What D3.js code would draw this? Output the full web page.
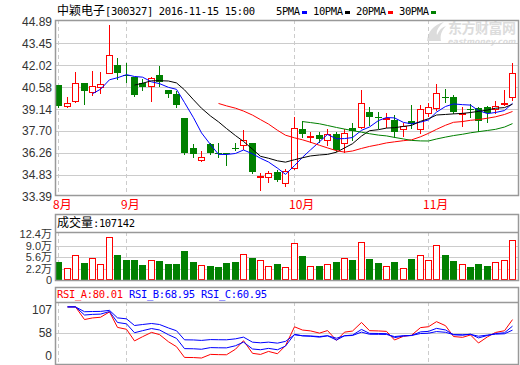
<!DOCTYPE html>
<html><head><meta charset="utf-8">
<script src="https://cdn.jsdelivr.net/npm/d3@7"></script>
<style>body{margin:0;background:#fff}svg{display:block}</style>
</head><body><svg id="c" width="520" height="365"></svg>
<script>
// ---------- data ----------
const dates = ["08-22","08-23","08-24","08-25","08-26","08-29","08-30","08-31",
"09-01","09-02","09-05","09-06","09-07","09-08","09-09","09-12","09-13","09-14","09-19","09-20","09-21","09-22","09-23","09-26","09-27","09-28","09-29","09-30",
"10-10","10-11","10-12","10-13","10-14","10-17","10-18","10-19","10-20","10-21","10-24","10-25","10-26","10-27","10-28","10-31",
"11-01","11-02","11-03","11-04","11-07","11-08","11-09","11-10","11-11","11-14","11-15"];
const openP  = [40.71,39.35,39.68,40.86,40.27,40.60,41.52,42.03,41.40,41.26,40.82,40.65,41.37,40.38,40.12,38.52,36.59,35.78,36.83,36.24,36.26,36.56,36.77,36.88,34.70,34.69,35.02,34.29,35.24,37.80,37.35,37.42,37.10,37.49,36.88,37.87,37.93,38.96,38.62,38.50,38.41,37.80,38.34,37.80,38.85,39.18,39.92,39.90,38.86,39.15,39.20,39.28,39.11,39.49,39.90];
const highP  = [40.71,39.90,41.56,40.86,41.63,41.55,44.65,42.47,42.18,41.26,41.08,41.26,41.96,40.40,40.30,38.52,36.81,36.39,36.90,36.92,36.26,36.88,37.75,36.90,34.95,35.08,35.13,35.17,38.63,38.37,37.64,37.64,37.80,37.64,37.80,38.19,40.38,39.28,38.96,38.85,38.74,38.19,39.40,39.40,39.55,40.78,40.45,40.05,39.28,39.50,39.30,39.35,39.68,40.38,42.14];
const lowP   = [39.30,39.29,39.61,39.46,40.05,40.16,41.48,41.08,40.93,39.99,40.38,39.68,40.65,39.90,39.30,36.20,35.96,35.74,36.20,35.99,35.45,36.44,36.49,34.95,33.81,34.36,34.42,34.09,35.20,37.27,36.99,36.99,36.77,36.40,36.33,37.10,37.90,38.08,37.87,37.97,37.32,37.36,37.87,37.54,38.70,39.07,39.61,38.90,38.02,38.63,37.71,38.30,38.85,39.40,39.73];
const closeP = [39.33,39.55,40.86,40.34,40.65,40.78,42.68,41.52,41.35,40.05,40.56,41.15,40.93,40.12,39.40,36.22,36.16,35.96,36.26,36.20,36.17,36.50,37.10,35.02,34.72,34.95,34.47,35.08,37.87,37.47,37.37,37.14,37.49,36.44,37.54,37.71,39.51,38.59,38.56,38.52,37.60,38.02,38.13,39.11,39.25,40.16,39.88,38.96,38.88,39.10,38.36,38.89,39.33,39.51,41.48];
// volume in 万 (10k) shares
const volume = [4.3,2.44,6.19,3.9,5.4,3.53,11.6,6.28,4.8,4.8,3.32,4.8,4.5,3.62,3.62,7.55,4.21,3.23,3.03,2.53,4.0,4.21,6.49,5.48,4.75,2.94,3.62,2.73,9.74,5.98,2.94,3.03,3.53,4.21,5.4,4.8,10.0,5.1,3.9,2.94,4.21,2.35,5.1,6.19,4.8,9.15,6.28,4.5,3.53,2.73,3.62,3.03,4.12,4.7,10.71];
const priceTicks = [33.39,34.83,36.26,37.70,39.14,40.58,42.02,43.45,44.89];
const volTicks = [0,2.2,5.6,9.0,12.4];
const volTickLabels = ["0","2.2万","5.6万","9.0万","12.4万"];
const rsiTicks = [0,58,107];
const maPeriods = [5,10,20,30];
const maNames = ["5PMA","10PMA","20PMA","30PMA"];
const rsiPeriods = [6,12,24];
const rsiNames = ["RSI_A","RSI_B","RSI_C"];
const rsiLast = ["80.01","68.95","60.95"];
const stockTitle = "中颖电子[300327] 2016-11-15 15:00";
const volTitle = "成交量:107142";

// ---------- styles ----------
const RED = "#ff0000", GREEN = "#008000", BLUE = "#0000ff";
const maColors = [BLUE, "#000000", RED, GREEN];
const rsiColors = [RED, BLUE, BLUE];
const GRID = "#cccccc", FRAME = "#999999", LABEL = "#333333";

const svg = d3.select("#c");
svg.append("rect").attr("width",520).attr("height",365).attr("fill","#fff");

const L = 55, R = 519;
const main = {top:20, bottom:196};
const vol = {top:214, head:232, bottom:280};
const rsi = {top:287, head:302, bottom:364};

const x = d3.scalePoint().domain(dates).range([58.5, 512]);
const cx = d => Math.round(x(d));
const yP = d3.scaleLinear().domain([33.39,44.89]).range([196.5,21.5]);
const yV = d3.scaleLinear().domain(volTicks).range(volTicks.map((_,i)=>vol.bottom - i*(vol.bottom-234.3)/(volTicks.length-1)));
const yR = d3.scaleLinear().domain([0,100]).range([368.4,306.9]);

function mono(sel, xx, yy, str, fill){
  const t = sel.append("text").attr("x",xx).attr("y",yy).attr("fill",fill);
  const runs = str.match(/[\u3000-\u9fff\uff00-\uffef]+|[^\u3000-\u9fff\uff00-\uffef]+/g);
  runs.forEach(r=>{
    const cjk = /[\u3000-\u9fff\uff00-\uffef]/.test(r);
    t.append("tspan").attr("font-family", cjk ? "Noto Sans CJK SC" : "DejaVu Sans Mono")
      .attr("font-size", cjk ? 12 : 10.5)
      .attr("textLength", r.length*(cjk?12:6)).attr("lengthAdjust","spacing")
      .text(r);
  });
  return t;
}

// ---------- header ----------
mono(svg, 57, 15, stockTitle, "#000");
let lx = 276;
maNames.forEach((n,i)=>{
  mono(svg, lx, 15, n, "#000");
  const w = n.length*6;
  svg.append("rect").attr("x", lx+w+2).attr("y",11).attr("width",5).attr("height",3).attr("fill",maColors[i]);
  lx += w + 13;
});

// watermark
const wm = svg.append("g").attr("fill","#dcdcdc");
wm.append("path").attr("d","M427,41 C428,32 433,25 444,22 C438,27 436,31 437,35 C439,30 442,27 446,26 C441,31 440,36 441,41 Z");
wm.append("text").attr("x",448).attr("y",33).attr("font-family","Noto Sans CJK SC").attr("font-weight","bold").attr("font-size",14).attr("textLength",68).text("东方财富网");
wm.append("text").attr("x",448).attr("y",43.5).attr("font-family","DejaVu Sans").attr("font-weight","bold").attr("font-style","italic").attr("font-size",7.5).attr("textLength",68).attr("lengthAdjust","spacingAndGlyphs").text("eastmoney.com");

// ---------- month boundaries ----------
const monthStarts = dates.map((d,i)=>({d,i,m:+d.slice(0,2)})).filter((o,i,a)=> i===0 || o.m!==a[i-1].m);

function vDashes(g, y0, y1){
  g.selectAll(null).data(monthStarts).join("line")
    .attr("x1",o=>cx(o.d)+0.5).attr("x2",o=>cx(o.d)+0.5).attr("y1",y0).attr("y2",y1)
    .attr("stroke",GRID).attr("stroke-dasharray","4,3");
}
function frame(g, y0, y1){
  g.append("rect").attr("x",L+0.5).attr("y",y0+0.5).attr("width",R-L-1).attr("height",y1-y0)
    .attr("fill","none").attr("stroke",FRAME).attr("stroke-width",1.5);
}

// ---------- main panel ----------
const gm = svg.append("g");
gm.selectAll(null).data(priceTicks.slice(1,-1)).join("line")
  .attr("x1",L).attr("x2",R).attr("y1",d=>Math.round(yP(d))+0.5).attr("y2",d=>Math.round(yP(d))+0.5).attr("stroke",GRID);
vDashes(gm, main.top, main.bottom);
gm.selectAll(null).data(priceTicks).join("text")
  .attr("x",52).attr("y",d=>yP(d)+4.5).attr("text-anchor","end")
  .attr("font-family","Liberation Sans").attr("font-size",12).attr("fill",LABEL)
  .text(d=>d.toFixed(2));
gm.selectAll(null).data(monthStarts).join("text")
  .attr("x",o=>cx(o.d)-5).attr("y",209).attr("font-family","Noto Sans CJK SC").attr("font-size",12).attr("fill",RED)
  .text(o=>o.m+"月");

svg.append("clipPath").attr("id","mclip").append("rect").attr("x",L).attr("y",main.top).attr("width",R-L).attr("height",main.bottom-main.top);
const gc = svg.append("g").attr("clip-path","url(#mclip)");
const bars = dates.map((d,i)=>({d,i,o:openP[i],h:highP[i],l:lowP[i],c:closeP[i],v:volume[i],up:closeP[i]>=openP[i]}));
// wicks
gc.selectAll(null).data(bars).join("line")
  .attr("x1",b=>cx(b.d)+0.5).attr("x2",b=>cx(b.d)+0.5)
  .attr("y1",b=>Math.round(yP(b.h))).attr("y2",b=>Math.round(yP(b.l))+1)
  .attr("stroke",b=>b.up?RED:GREEN);
// bodies
gc.selectAll(null).data(bars).join("rect")
  .each(function(b){
    const yo = Math.round(yP(b.o)), yc = Math.round(yP(b.c));
    const top = Math.min(yo,yc), bot = Math.max(yo,yc);
    const s = d3.select(this);
    const X = cx(b.d);
    if (b.up){
      s.attr("x",X-2.5).attr("y",top+0.5).attr("width",6).attr("height",Math.max(bot-top,1))
       .attr("fill", bot-top>1 ? "#fff" : "none").attr("stroke",RED);
    } else {
      s.attr("x",X-3).attr("y",top).attr("width",7).attr("height",Math.max(bot-top,1)).attr("fill",GREEN);
    }
  });
// moving averages
maPeriods.forEach((n,k)=>{
  const ma = closeP.map((_,i)=> i>=n-1 ? d3.mean(closeP.slice(i-n+1,i+1)) : null);
  gc.append("path").datum(ma.map((v,i)=>({d:dates[i],v})))
    .attr("fill","none").attr("stroke",maColors[k]).attr("stroke-width",1)
    .attr("d", d3.line().defined(p=>p.v!==null).x(p=>cx(p.d)+0.5).y(p=>yP(p.v)));
});
frame(svg, main.top, main.bottom-1);

// ---------- volume panel ----------
const gv = svg.append("g");
gv.selectAll(null).data(volTicks.slice(1,-1)).join("line")
  .attr("x1",L).attr("x2",R).attr("y1",d=>Math.round(yV(d))+0.5).attr("y2",d=>Math.round(yV(d))+0.5).attr("stroke",GRID);
vDashes(gv, vol.head, vol.bottom);
gv.selectAll(null).data(volTicks).join("text")
  .attr("x",52).attr("y",d=>yV(d)+4).attr("text-anchor","end")
  .attr("font-family","Liberation Sans, Noto Sans CJK SC").attr("font-size",11).attr("fill",LABEL)
  .text((d,i)=>volTickLabels[i]);
gv.selectAll(null).data(bars).join("rect")
  .each(function(b){
    const s = d3.select(this), X = cx(b.d), t = Math.round(yV(b.v));
    if (b.up) s.attr("x",X-2.5).attr("y",t+0.5).attr("width",6).attr("height",vol.bottom-t-1).attr("fill","#fff").attr("stroke",RED);
    else s.attr("x",X-3).attr("y",t).attr("width",7).attr("height",vol.bottom-t).attr("fill",GREEN);
  });
frame(gv, vol.top, vol.bottom);
gv.append("line").attr("x1",L).attr("x2",R).attr("y1",vol.head+0.5).attr("y2",vol.head+0.5).attr("stroke",FRAME).attr("stroke-width",1.5);
mono(gv, 57, 227, volTitle, "#000");

// ---------- RSI panel ----------
const gr = svg.append("g");
gr.selectAll(null).data(rsiTicks.filter(t=>yR(t)>rsi.head+4 && yR(t)<rsi.bottom-4)).join("line")
  .attr("x1",L).attr("x2",R).attr("y1",d=>Math.round(yR(d))+0.5).attr("y2",d=>Math.round(yR(d))+0.5).attr("stroke",GRID);
vDashes(gr, rsi.head, rsi.bottom);
gr.selectAll(null).data(rsiTicks).join("text")
  .attr("x",52).attr("y",d=>Math.max(rsi.head+7.5, Math.min(rsi.bottom-9, yR(d)))+4.5).attr("text-anchor","end")
  .attr("font-family","Liberation Sans").attr("font-size",12).attr("fill",LABEL)
  .text(d=>d);
svg.append("clipPath").attr("id","rclip").append("rect").attr("x",L).attr("y",rsi.head).attr("width",R-L).attr("height",rsi.bottom-rsi.head);
const grc = gr.append("g").attr("clip-path","url(#rclip)");
rsiPeriods.forEach((n,k)=>{
  let su=null, sa=null; const vals=[];
  closeP.forEach((c,i)=>{
    if(i===0){vals.push(null);return;}
    const df = c-closeP[i-1], up=Math.max(df,0), ab=Math.abs(df);
    su = su===null ? up : (up + (n-1)*su)/n;
    sa = sa===null ? ab : (ab + (n-1)*sa)/n;
    vals.push(sa>0 ? su/sa*100 : 50);
  });
  grc.append("path").datum(vals.map((v,i)=>({d:dates[i],v})))
    .attr("fill","none").attr("stroke",rsiColors[k])
    .attr("d", d3.line().defined(p=>p.v!==null).x(p=>cx(p.d)+0.5).y(p=>yR(p.v)));
});
frame(gr, rsi.top, rsi.bottom);
gr.append("line").attr("x1",L).attr("x2",R).attr("y1",rsi.head+0.5).attr("y2",rsi.head+0.5).attr("stroke",FRAME).attr("stroke-width",1.5);
rsiNames.forEach((n,k)=> mono(gr, 57 + k*72, 298, n+":"+rsiLast[k], rsiColors[k]));
</script></body></html>
